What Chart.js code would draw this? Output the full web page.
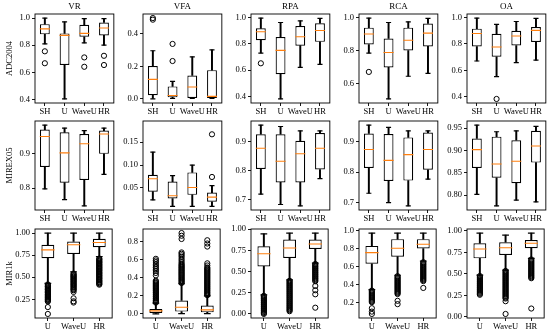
<!DOCTYPE html>
<html>
<head>
<meta charset="utf-8">
<script src="https://cdn.jsdelivr.net/npm/chart.js@4.4.1/dist/chart.umd.min.js"></script>
<style>
  html, body { margin: 0; padding: 0; background: #fff; }
  #fig { position: relative; width: 550px; height: 334px; overflow: hidden; }
  #fig canvas { position: absolute; }
</style>
</head>
<body>
<div id="fig"></div>
<script>
const metrics = ["VR", "VFA", "RPA", "RCA", "OA"];
const methods4 = ["SH", "U", "WaveU", "HR"];
const methods3 = ["U", "WaveU", "HR"];

// box summaries per method: [lower whisker, Q1, median, Q3, upper whisker]
// ---- ADC2004 ----
const adcVR  = [[0.81, 0.88, 0.92, 0.955, 1.0], [0.404, 0.654, 0.872, 0.887, 0.972], [0.817, 0.862, 0.887, 0.95, 0.995], [0.80, 0.872, 0.927, 0.967, 0.995]];
const adcVFA = [[0.0, 0.023, 0.12, 0.202, 0.296], [0.003, 0.01, 0.021, 0.077, 0.108], [0.003, 0.006, 0.073, 0.144, 0.258], [0.003, 0.006, 0.016, 0.177, 0.302]];
const adcRPA = [[0.729, 0.826, 0.891, 0.917, 0.995], [0.38, 0.568, 0.749, 0.85, 0.961], [0.62, 0.785, 0.853, 0.935, 0.974], [0.643, 0.814, 0.90, 0.956, 0.992]];
const adcRCA = [[0.785, 0.836, 0.90, 0.938, 0.996], [0.508, 0.698, 0.788, 0.873, 0.969], [0.645, 0.80, 0.862, 0.938, 0.973], [0.662, 0.825, 0.905, 0.963, 0.994]];
const adcOA  = [[0.671, 0.78, 0.878, 0.915, 0.995], [0.553, 0.703, 0.777, 0.876, 0.948], [0.659, 0.788, 0.86, 0.899, 0.969], [0.677, 0.814, 0.902, 0.927, 0.992]];
const adcVRFliers  = [[0.755, 0.667], [], [0.71, 0.641], [0.722, 0.654]];
const adcVFAFliers = [[0.487, 0.497], [0.338, 0.233], [], []];
const adcRPAFliers = [[0.651], [], [], []];
const adcRCAFliers = [[0.671], [], [], []];
const adcOAFliers  = [[], [0.385], [], []];
const adcTicks = [["0.4", "0.6", "0.8", "1.0"], ["0.0", "0.2", "0.4"], ["0.4", "0.6", "0.8", "1.0"], ["0.6", "0.8", "1.0"], ["0.4", "0.6", "0.8", "1.0"]];

// ---- MIREX05 ----
const mirexVR  = [[0.798, 0.861, 0.949, 0.969, 0.982], [0.767, 0.816, 0.902, 0.961, 0.973], [0.749, 0.824, 0.928, 0.956, 0.966], [0.84, 0.899, 0.956, 0.966, 0.973]];
const mirexVFA = [[0.024, 0.042, 0.070, 0.079, 0.128], [0.010, 0.027, 0.033, 0.064, 0.077], [0.010, 0.035, 0.051, 0.084, 0.100], [0.010, 0.020, 0.030, 0.040, 0.055]];
const mirexRPA = [[0.718, 0.806, 0.878, 0.927, 0.959], [0.682, 0.759, 0.833, 0.927, 0.954], [0.677, 0.759, 0.859, 0.904, 0.939], [0.772, 0.804, 0.878, 0.931, 0.939]];
const mirexRCA = [[0.730, 0.814, 0.875, 0.928, 0.956], [0.699, 0.771, 0.839, 0.926, 0.948], [0.688, 0.772, 0.858, 0.915, 0.937], [0.777, 0.808, 0.875, 0.931, 0.937]];
const mirexOA  = [[0.802, 0.861, 0.902, 0.927, 0.957], [0.776, 0.839, 0.870, 0.931, 0.942], [0.789, 0.827, 0.876, 0.923, 0.944], [0.785, 0.873, 0.910, 0.944, 0.954]];
const mirexVRFliers  = [[], [], [], []];
const mirexVFAFliers = [[], [], [], [0.074, 0.167]];
const mirexRPAFliers = [[], [], [], []];
const mirexRCAFliers = [[], [], [], []];
const mirexOAFliers  = [[], [], [], []];
const mirexTicks = [["0.8", "0.9"], ["0.05", "0.10", "0.15"], ["0.7", "0.8", "0.9"], ["0.7", "0.8", "0.9"], ["0.80", "0.85", "0.90", "0.95"]];

// ---- MIR1k ----
const mirVR  = [[0.43, 0.715, 0.81, 0.867, 1.0], [0.562, 0.764, 0.867, 0.905, 1.0], [0.733, 0.84, 0.893, 0.935, 1.0]];
const mirVFA = [[0.0, 0.011, 0.034, 0.056, 0.12], [0.003, 0.026, 0.075, 0.149, 0.335], [0.003, 0.018, 0.045, 0.093, 0.20]];
const mirRPA = [[0.225, 0.561, 0.711, 0.798, 0.945], [0.403, 0.66, 0.779, 0.878, 0.955], [0.601, 0.767, 0.826, 0.878, 0.955]];
const mirRCA = [[0.345, 0.633, 0.757, 0.831, 0.974], [0.505, 0.712, 0.805, 0.906, 0.974], [0.663, 0.802, 0.85, 0.906, 0.974]];
const mirOA  = [[0.487, 0.681, 0.79, 0.856, 0.975], [0.545, 0.72, 0.805, 0.868, 0.952], [0.681, 0.798, 0.856, 0.895, 0.975]];
const mirVRFliers = [
  [0.419, 0.41, 0.399, 0.392, 0.381, 0.374, 0.364, 0.357, 0.346, 0.339, 0.329, 0.322, 0.311, 0.303, 0.295, 0.286, 0.277, 0.269, 0.259, 0.251, 0.243, 0.233, 0.226, 0.163, 0.085],
  [0.542, 0.532, 0.523, 0.513, 0.506, 0.496, 0.487, 0.477, 0.47, 0.458, 0.451, 0.44, 0.431, 0.42, 0.413, 0.401, 0.393, 0.382, 0.371, 0.362, 0.353, 0.334, 0.262, 0.228, 0.214],
  [0.712, 0.703, 0.695, 0.685, 0.677, 0.667, 0.66, 0.649, 0.642, 0.631, 0.624, 0.613, 0.606, 0.596, 0.589, 0.578, 0.571, 0.56, 0.553, 0.542, 0.535, 0.524, 0.517, 0.506, 0.498, 0.487, 0.48, 0.469, 0.462, 0.451, 0.444, 0.433, 0.425, 0.416]
];
const mirVFAFliers = [
  [0.126, 0.136, 0.147, 0.156, 0.168, 0.177, 0.189, 0.198, 0.21, 0.22, 0.232, 0.241, 0.253, 0.262, 0.274, 0.283, 0.295, 0.305, 0.316, 0.326, 0.338, 0.347, 0.359, 0.369, 0.428, 0.455, 0.478, 0.497, 0.515, 0.533, 0.553, 0.576, 0.594, 0.612],
  [0.343, 0.353, 0.365, 0.374, 0.386, 0.395, 0.407, 0.417, 0.429, 0.438, 0.45, 0.459, 0.471, 0.481, 0.492, 0.502, 0.514, 0.523, 0.535, 0.545, 0.558, 0.575, 0.594, 0.612, 0.633, 0.651, 0.668, 0.683, 0.832, 0.868, 0.898],
  [0.208, 0.218, 0.23, 0.24, 0.252, 0.262, 0.274, 0.284, 0.296, 0.306, 0.318, 0.328, 0.34, 0.35, 0.362, 0.372, 0.384, 0.394, 0.406, 0.416, 0.428, 0.438, 0.45, 0.46, 0.472, 0.482, 0.494, 0.504, 0.516, 0.538, 0.562, 0.748, 0.782, 0.818]
];
const mirRPAFliers = [
  [0.214, 0.203, 0.19, 0.179, 0.166, 0.155, 0.142, 0.131, 0.118, 0.107, 0.094, 0.083, 0.07, 0.059, 0.046, 0.035, 0.022, 0.011, 0.0],
  [0.392, 0.381, 0.368, 0.357, 0.344, 0.333, 0.32, 0.309, 0.296, 0.285, 0.272, 0.261, 0.248, 0.237, 0.224, 0.213, 0.2, 0.189, 0.176, 0.165, 0.152, 0.141, 0.128, 0.117, 0.104, 0.093, 0.08, 0.069, 0.056, 0.045, 0.032],
  [0.59, 0.579, 0.566, 0.555, 0.542, 0.531, 0.518, 0.507, 0.494, 0.483, 0.47, 0.459, 0.446, 0.435, 0.422, 0.411, 0.398, 0.386, 0.33, 0.28, 0.232, 0.074]
];
const mirRCAFliers = [
  [0.335, 0.324, 0.312, 0.302, 0.29, 0.279, 0.268, 0.257, 0.246, 0.235, 0.224, 0.214, 0.206, 0.139, 0.101, 0.075],
  [0.495, 0.484, 0.472, 0.462, 0.45, 0.439, 0.428, 0.417, 0.406, 0.395, 0.384, 0.373, 0.362, 0.351, 0.34, 0.329, 0.318, 0.307, 0.296, 0.221, 0.184],
  [0.65, 0.639, 0.627, 0.617, 0.605, 0.594, 0.583, 0.572, 0.561, 0.55, 0.539, 0.528, 0.517, 0.506, 0.495, 0.484, 0.473, 0.462, 0.451, 0.44, 0.364]
];
const mirOAFliers = [
  [0.476, 0.464, 0.453, 0.441, 0.43, 0.418, 0.407, 0.395, 0.384, 0.372, 0.361, 0.349, 0.338, 0.326, 0.315, 0.303, 0.292, 0.28, 0.269, 0.258],
  [0.535, 0.523, 0.512, 0.5, 0.489, 0.477, 0.466, 0.454, 0.443, 0.431, 0.42, 0.408, 0.397, 0.385, 0.374, 0.362, 0.351, 0.339, 0.328, 0.316, 0.305, 0.293, 0.282, 0.27, 0.259, 0.247, 0.236, 0.224, 0.214, 0.183, 0.035],
  [0.668, 0.657, 0.645, 0.634, 0.622, 0.611, 0.599, 0.588, 0.576, 0.565, 0.553, 0.542, 0.53, 0.519, 0.507, 0.496, 0.484, 0.473, 0.461, 0.45, 0.098]
];
const mirTicks = [["0.25", "0.50", "0.75", "1.00"], ["0.0", "0.2", "0.4", "0.6", "0.8"], ["0.00", "0.25", "0.50", "0.75", "1.00"], ["0.2", "0.4", "0.6", "0.8", "1.0"], ["0.00", "0.25", "0.50", "0.75", "1.00"]];

// rows of the figure
const rows = [
  { name: "ADC2004", methods: methods4, boxes: [adcVR, adcVFA, adcRPA, adcRCA, adcOA],
    fliers: [adcVRFliers, adcVFAFliers, adcRPAFliers, adcRCAFliers, adcOAFliers], ticks: adcTicks },
  { name: "MIREX05", methods: methods4, boxes: [mirexVR, mirexVFA, mirexRPA, mirexRCA, mirexOA],
    fliers: [mirexVRFliers, mirexVFAFliers, mirexRPAFliers, mirexRCAFliers, mirexOAFliers], ticks: mirexTicks },
  { name: "MIR1k", methods: methods3, boxes: [mirVR, mirVFA, mirRPA, mirRCA, mirOA],
    fliers: [mirVRFliers, mirVFAFliers, mirRPAFliers, mirRCAFliers, mirOAFliers], ticks: mirTicks }
];
const yLimitOverride = { "MIREX05-VFA": [0.002, 0.196] };

// layout (px)
const FRAME_LEFT = 35, COL_STEP = 108, FRAME_W = 81, FRAME_H = 89;
const ROW_TOPS = [14, 121, 229];
const AXIS_W = 34, TOP_SPACE = 14, X_AXIS_H = 18, RIGHT_PAD = 4;
const FONT = "'Liberation Serif', 'Times New Roman', serif";
const MEDIAN_COLOR = "#ff7f0e";

Chart.defaults.font.family = FONT;
Chart.defaults.color = "#000";

const framePlugin = {
  id: "frame",
  afterDraw(chart) {
    const { ctx, chartArea: a } = chart;
    ctx.save();
    ctx.strokeStyle = "#000";
    ctx.lineWidth = 0.9;
    ctx.strokeRect(a.left, a.top, a.right - a.left, a.bottom - a.top);
    ctx.restore();
  }
};

function autoLimits(boxes, fliers) {
  const all = boxes.flat().concat(fliers.flat());
  const lo = Math.min(...all), hi = Math.max(...all);
  const pad = (hi - lo) * 0.05;
  return [lo - pad, hi + pad];
}

const fig = document.getElementById("fig");

rows.forEach((row, r) => {
  metrics.forEach((metric, c) => {
    const labels = row.methods;
    const boxes = row.boxes[c];
    const fliers = row.fliers[c];
    const tickLabels = row.ticks[c];
    const decimals = tickLabels[0].split(".")[1].length;
    const [yMin, yMax] = yLimitOverride[row.name + "-" + metric] || autoLimits(boxes, fliers);
    const band = FRAME_W / labels.length;

    const left = FRAME_LEFT + c * COL_STEP;
    const top = ROW_TOPS[r];
    const canvas = document.createElement("canvas");
    canvas.width = FRAME_W + AXIS_W + RIGHT_PAD;
    canvas.height = FRAME_H + TOP_SPACE + X_AXIS_H;
    canvas.style.left = (left - AXIS_W) + "px";
    canvas.style.top = (top - TOP_SPACE) + "px";
    fig.appendChild(canvas);

    new Chart(canvas.getContext("2d"), {
      type: "bar",
      data: {
        labels: labels,
        datasets: [
          {
            type: "line", label: "median", showLine: false, order: 0,
            data: boxes.map((b, i) => ({ x: labels[i], y: b[2] })),
            pointStyle: "line", pointRadius: band * 0.25, pointHoverRadius: band * 0.25,
            pointBorderColor: MEDIAN_COLOR, pointBorderWidth: 1.1, borderColor: MEDIAN_COLOR
          },
          {
            type: "line", label: "caps", showLine: false, order: 1,
            data: boxes.flatMap((b, i) => [{ x: labels[i], y: b[0] }, { x: labels[i], y: b[4] }]),
            pointStyle: "line", pointRadius: band * 0.125, pointHoverRadius: band * 0.125,
            pointBorderColor: "#000", pointBorderWidth: 1.2, borderColor: "#000"
          },
          {
            type: "line", label: "fliers", showLine: false, order: 1,
            data: fliers.flatMap((arr, i) => arr.map(v => ({ x: labels[i], y: v }))),
            pointStyle: "circle", pointRadius: 2.6, pointHoverRadius: 2.6,
            pointBorderColor: "#000", pointBackgroundColor: "rgba(0,0,0,0)",
            pointBorderWidth: 1, borderColor: "#000"
          },
          {
            label: "box", order: 2, grouped: false,
            data: boxes.map(b => [b[1], b[3]]),
            backgroundColor: "#fff", borderColor: "#000", borderWidth: 1.2, borderSkipped: false,
            barPercentage: 0.5, categoryPercentage: 1
          },
          {
            label: "whisker low", order: 3, grouped: false,
            data: boxes.map(b => [b[0], b[1]]),
            backgroundColor: "#000", borderWidth: 0, barThickness: 1.3
          },
          {
            label: "whisker high", order: 3, grouped: false,
            data: boxes.map(b => [b[3], b[4]]),
            backgroundColor: "#000", borderWidth: 0, barThickness: 1.3
          }
        ]
      },
      options: {
        responsive: false,
        animation: false,
        events: [],
        layout: { padding: { top: r === 0 ? 0 : TOP_SPACE, right: RIGHT_PAD, left: 0, bottom: 0 } },
        plugins: {
          legend: { display: false },
          tooltip: { enabled: false },
          title: {
            display: r === 0, text: metric, fullSize: false, color: "#000",
            font: { family: FONT, size: 9, weight: "normal", lineHeight: 1 },
            padding: { top: 2, bottom: 3 }
          }
        },
        scales: {
          x: {
            type: "category",
            offset: true,
            grid: { offset: false, drawOnChartArea: false, drawTicks: true, tickLength: 3, tickColor: "#000", tickWidth: 0.9 },
            border: { display: false },
            ticks: { font: { family: FONT, size: 8.5 }, color: "#000", padding: 1, maxRotation: 0, minRotation: 0, autoSkip: false },
            afterFit: (scale) => { scale.height = X_AXIS_H; }
          },
          y: {
            type: "linear",
            min: yMin, max: yMax,
            grid: { drawOnChartArea: false, drawTicks: true, tickLength: 3, tickColor: "#000", tickWidth: 0.9 },
            border: { display: false },
            ticks: {
              font: { family: FONT, size: 8.5 }, color: "#000", padding: 2, autoSkip: false,
              callback: (v) => Number(v).toFixed(decimals)
            },
            afterBuildTicks: (scale) => { scale.ticks = tickLabels.map(s => ({ value: parseFloat(s) })); },
            afterFit: (scale) => { scale.width = AXIS_W; },
            title: {
              display: c === 0, text: row.name, color: "#000",
              font: { family: FONT, size: 8.5, lineHeight: 1 },
              padding: { top: 5, bottom: 0 }
            }
          }
        }
      },
      plugins: [framePlugin]
    });
  });
});
</script>
</body>
</html>
